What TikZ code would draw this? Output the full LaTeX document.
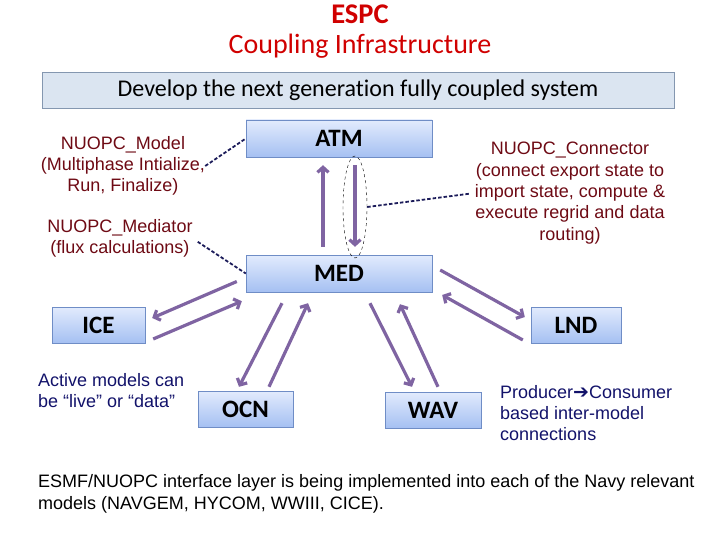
\documentclass[tikz,border=0pt]{standalone}
\usepackage{fontspec}
\setmainfont{Carlito}[Ligatures=NoCommon]
\newfontfamily\arialfont{Liberation Sans}
\newfontfamily\symbfont{DejaVu Sans}
\usepackage{tikz}
\usetikzlibrary{shapes.geometric, arrows.meta, positioning}
\definecolor{titlered}{HTML}{D00000}
\definecolor{bannerfill}{HTML}{DBE5F1}
\definecolor{bannerdraw}{HTML}{8497B0}
\definecolor{boxtop}{HTML}{E2EBFD}
\definecolor{boxbottom}{HTML}{A5C0F2}
\definecolor{boxdraw}{HTML}{6F8DC6}
\definecolor{flowpurple}{HTML}{7F64A2}
\definecolor{notered}{HTML}{6E0A14}
\definecolor{notenavy}{HTML}{12126A}
\definecolor{dashnavy}{HTML}{1C1C5A}

\begin{document}
\begin{tikzpicture}[x=1pt, y=-1pt,
    model/.style={draw=boxdraw, top color=boxtop, bottom color=boxbottom, minimum height=36pt, inner sep=0pt, font=\fontsize{25}{28}\selectfont\bfseries},
    note/.style={font=\arialfont\fontsize{18}{21.3}\selectfont, inner sep=0pt},
    flow/.style={-{Straight Barb[length=5pt, width=11pt]}, line width=3.2pt, flowpurple},
    hint/.style={dash pattern=on 3.5pt off 2pt, line width=1.8pt, dashnavy}]
    \useasboundingbox (0,0) rectangle (720,540);
    \node[text=titlered, font=\fontsize{28.5}{32}\selectfont\bfseries] (title) at (360,14) {ESPC};
    \node[text=titlered, font=\fontsize{28}{32}\selectfont] (subtitle) at (360,46) {Coupling Infrastructure};
    \node[draw=bannerdraw, fill=bannerfill, minimum width=632pt, minimum height=36pt, font=\fontsize{24}{27}\selectfont] (banner) at (358,90) {Develop the next generation fully coupled system};
    % model boxes
    \node[model, minimum width=186pt, minimum height=37pt] (atm) at (339,138.5) {ATM};
    \node[model, minimum width=186pt, minimum height=37pt] (med) at (339,273.5) {MED};
    \node[model, minimum width=93pt] (ice) at (98.5,325) {ICE};
    \node[model, minimum width=90pt] (lnd) at (576,325) {LND};
    \node[model, minimum width=95pt] (ocn) at (245.5,409) {OCN};
    \node[model, minimum width=96pt] (wav) at (433,410) {WAV};
    % notes
    \node[note, text=notered, align=center] (modelnote) at (123,166) {NUOPC\_Model\\(Multiphase Intialize,\\Run, Finalize)};
    \node[note, text=notered, align=center] (mednote) at (120,238.5) {NUOPC\_Mediator\\(flux calculations)};
    \node[note, text=notered, align=center] (connnote) at (570,193) {NUOPC\_Connector\\(connect export state to\\import state, compute \&\\execute regrid and data\\routing)};
    \node[note, text=notenavy, align=left, anchor=west] (activenote) at (38,390.5) {Active models can\\be “live” or “data”};
    \node[note, text=notenavy, align=left, anchor=west] (prodnote) at (500,413) {Producer{\symbfont\fontsize{19}{21}\selectfont ➔}Consumer\\based inter-model\\connections};
    \node[note, align=left, anchor=west, font=\arialfont\fontsize{18}{22}\selectfont] (layernote) at (38,494) {ESMF/NUOPC interface layer is being implemented into each of the Navy relevant\\models (NAVGEM, HYCOM, WWIII, CICE).};
    \node[draw, dashed, ellipse, minimum width=24pt, minimum height=102pt, inner sep=0pt] (sel) at (355,207) {};
    % dashed pointers
    \draw[hint] (modelnote.east) -- (atm.west);
    \draw[hint, shorten <=6pt] (mednote.east) -- (med.west);
    \draw[hint, shorten >=6pt] (sel.east) -- (connnote.west);
    % exchange arrows
    \draw[flow, shorten <=8pt, shorten >=8pt] ([xshift=-16pt]med.north) -- ([xshift=-16pt]atm.south);
    \draw[flow, shorten <=8pt, shorten >=8pt] ([xshift=16pt]atm.south) -- ([xshift=16pt]med.north);
    \draw[flow] ([xshift=-9pt, yshift=-8pt]med.west) -- ([xshift=7pt, yshift=7pt]ice.east);
    \draw[flow] ([xshift=8pt, yshift=-14pt]ice.east) -- ([xshift=-4pt, yshift=-9pt]med.south west);
    \draw[flow] ([xshift=-57pt, yshift=-11pt]med.south) -- ([xshift=-6.5pt, yshift=4pt]ocn.north);
    \draw[flow] ([xshift=23.5pt, yshift=4pt]ocn.north) -- ([xshift=-31pt, yshift=-11pt]med.south);
    \draw[flow] ([xshift=31pt, yshift=-11pt]med.south) -- ([xshift=-21pt, yshift=5pt]wav.north);
    \draw[flow] ([xshift=5pt, yshift=5pt]wav.north) -- ([xshift=61pt, yshift=-12pt]med.south);
    \draw[flow] ([xshift=8pt, yshift=3.5pt]med.east) -- ([xshift=-6pt, yshift=8pt]lnd.west);
    \draw[flow] ([xshift=-8pt, yshift=-15pt]lnd.west) -- ([xshift=10pt, yshift=-21.5pt]med.east);
\end{tikzpicture}
\end{document}
